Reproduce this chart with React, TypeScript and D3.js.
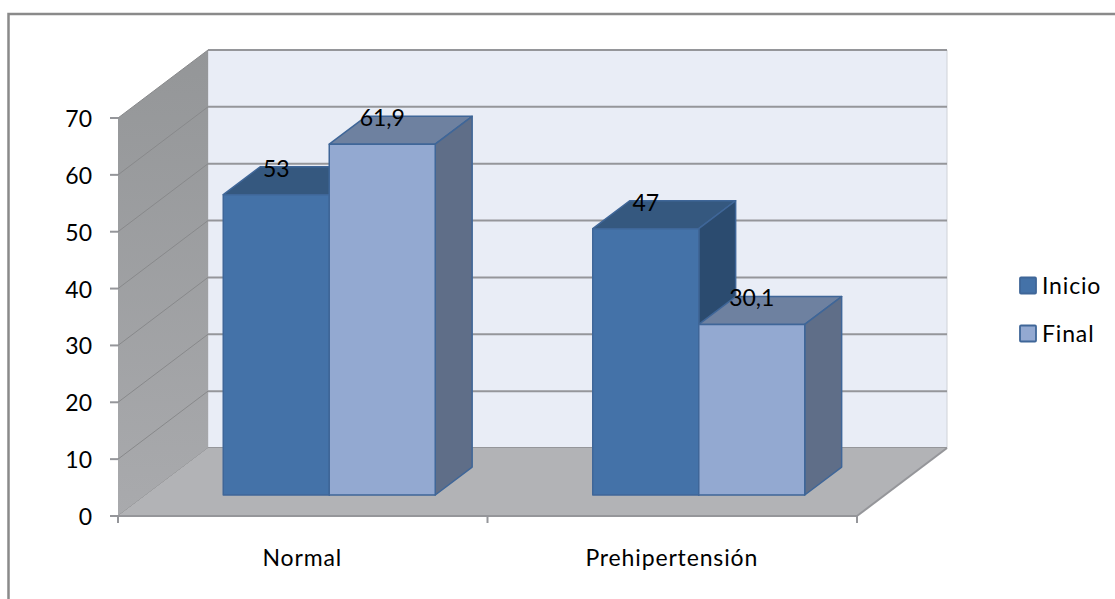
import React from "react";
import * as d3 from "d3";

const categories = ["Normal", "Prehipertensión"];
const seriesNames = ["Inicio", "Final"];
const inicio = [53, 47];
const final = [61.9, 30.1];
const labelsInicio = ["53", "47"];
const labelsFinal = ["61,9", "30,1"];
const yTicks = [0, 10, 20, 30, 40, 50, 60, 70];

const W = 1115, H = 599;
const y = d3.scaleLinear().domain([0, 70]).range([516, 118]);
// bars stand further back in the perspective box, so their unit height is slightly smaller
const yBar = d3.scaleLinear().domain([0, 70]).range([495, 98.3]);
const xBand = d3.scaleBand().domain(categories).range([118, 857]);
// depth: 0 = front of the box, 1 = back wall
const depth = d3.scaleLinear().domain([0, 1]);
const dxOf = depth.copy().range([0, 90]);
const dyOf = depth.copy().range([0, -68]);
const P = (x: number, v: number, z: number): [number, number] => [x + dxOf(z), y(v) + dyOf(z)];
const Z1 = 0.3, Z2 = 0.71;
const Bar = (x: number, v: number, back: boolean): [number, number] => {
  const dz = back ? Z2 - Z1 : 0;
  return [x + dxOf(Z1) + dxOf(dz), yBar(v) + dyOf(dz)];
};
const poly = (pts: [number, number][]) => d3.line()(pts)! + "Z";

const BAR_W = 106;
const GRID = "#95969a";
const fills = [
  { front: "#4472a8", top: "#35587f", side: "#2b4b6f", stroke: "#3f6698" },
  { front: "#93a9d1", top: "#6e81a0", side: "#5f6e88", stroke: "#3f6698" },
];
const FONT = "Lato, 'Open Sans', sans-serif";
const TEXT = { fontSize: 23, letterSpacing: 0.85, fill: "#000" };
const NUM = { fontSize: 23, fill: "#000" };

export default function App() {
  const xEnd = 857;
  return (
    <svg width={W} height={H} style={{ position: "absolute", left: 0, top: 0, background: "#fff" }} fontFamily={FONT}>
      <defs>
        <linearGradient id="wall" x1="0" y1="0" x2="0" y2="1">
          <stop offset="0" stopColor="#949698" />
          <stop offset="1" stopColor="#a9aaad" />
        </linearGradient>
      </defs>
      <path d={`M8.5,599V14H1115`} fill="none" stroke="#8a8a8a" strokeWidth={2.5} />
      {/* back wall */}
      <path d={poly([P(118, 70, 1), P(xEnd, 70, 1), P(xEnd, 0, 1), P(118, 0, 1)])} fill="#e9edf6" stroke="#cfd2d8" strokeWidth={1} />
      {yTicks.map((t) => (
        <line key={t} x1={P(118, t, 1)[0]} x2={P(xEnd, t, 1)[0]} y1={P(118, t, 1)[1]} y2={P(xEnd, t, 1)[1]} stroke={GRID} strokeWidth={2} />
      ))}
      {/* left wall */}
      <path d={poly([P(118, 70, 0), P(118, 70, 1), P(118, 0, 1), P(118, 0, 0)])} fill="url(#wall)" />
      {yTicks.map((t) => (
        <line key={t} x1={P(118, t, 0)[0]} x2={P(118, t, 1)[0]} y1={P(118, t, 0)[1]} y2={P(118, t, 1)[1]} stroke="#88898b" strokeWidth={1} />
      ))}
      {/* floor */}
      <path d={poly([P(118, 0, 0), P(118, 0, 1), P(xEnd, 0, 1), P(xEnd, 0, 0)])} fill="#b2b3b6" />
      <line x1={P(xEnd, 0, 0)[0]} y1={P(xEnd, 0, 0)[1]} x2={P(xEnd, 0, 1)[0]} y2={P(xEnd, 0, 1)[1]} stroke={GRID} strokeWidth={2} />
      {/* axes */}
      <line x1={118} x2={xEnd} y1={y(0)} y2={y(0)} stroke={GRID} strokeWidth={2} />
      {yTicks.map((t) => (
        <g key={t}>
          <line x1={110} x2={118} y1={y(t)} y2={y(t)} stroke={GRID} strokeWidth={2} />
          <text x={92} y={y(t)} {...NUM} textAnchor="end" dominantBaseline="central">{t}</text>
        </g>
      ))}
      {[118, 487.5, xEnd].map((t) => (
        <line key={t} x1={t} x2={t} y1={y(0)} y2={y(0) + 7} stroke={GRID} strokeWidth={2} />
      ))}
      {categories.map((c) => (
        <text key={c} x={xBand(c)! + xBand.bandwidth() / 2 - 0.5} y={557} {...TEXT} textAnchor="middle" dominantBaseline="central">{c}</text>
      ))}
      {/* bars */}
      {categories.map((c, i) => {
        const cx = xBand(c)! + xBand.bandwidth() / 2 - 0.5;
        const vals = [inicio[i], final[i]];
        return (
          <g key={c}>
            {vals.map((v, s) => {
              const x0 = cx + (s === 0 ? -BAR_W : 0);
              const x1 = x0 + BAR_W;
              const f = fills[s];
              return (
                <g key={s} stroke={f.stroke} strokeWidth={1.5} strokeLinejoin="round">
                  <path d={poly([Bar(x0, v, false), Bar(x0, v, true), Bar(x1, v, true), Bar(x1, v, false)])} fill={f.top} />
                  <path d={poly([Bar(x1, v, false), Bar(x1, v, true), Bar(x1, 0, true), Bar(x1, 0, false)])} fill={f.side} />
                  <path d={poly([Bar(x0, v, false), Bar(x1, v, false), Bar(x1, 0, false), Bar(x0, 0, false)])} fill={f.front} />
                </g>
              );
            })}
          </g>
        );
      })}
      {/* data labels */}
      {categories.map((c, i) => {
        const cx = xBand(c)! + xBand.bandwidth() / 2 - 0.5;
        return [inicio[i], final[i]].map((v, s) => {
          const xm = cx + (s === 0 ? -BAR_W / 2 : BAR_W / 2);
          const p = Bar(xm, v, false);
          return (
            <text key={s} x={p[0]} y={p[1] - 27} {...NUM} textAnchor="middle" dominantBaseline="central">
              {(s === 0 ? labelsInicio : labelsFinal)[i]}
            </text>
          );
        });
      })}
      {/* legend */}
      {seriesNames.map((n, i) => (
        <g key={n}>
          <rect x={1020} y={277.5 + i * 48} width={16} height={16} rx={1} fill={fills[i].front} stroke={fills[i].stroke} strokeWidth={1.8} />
          <text x={1042} y={285 + i * 48} {...TEXT} dominantBaseline="central">{n}</text>
        </g>
      ))}
    </svg>
  );
}
